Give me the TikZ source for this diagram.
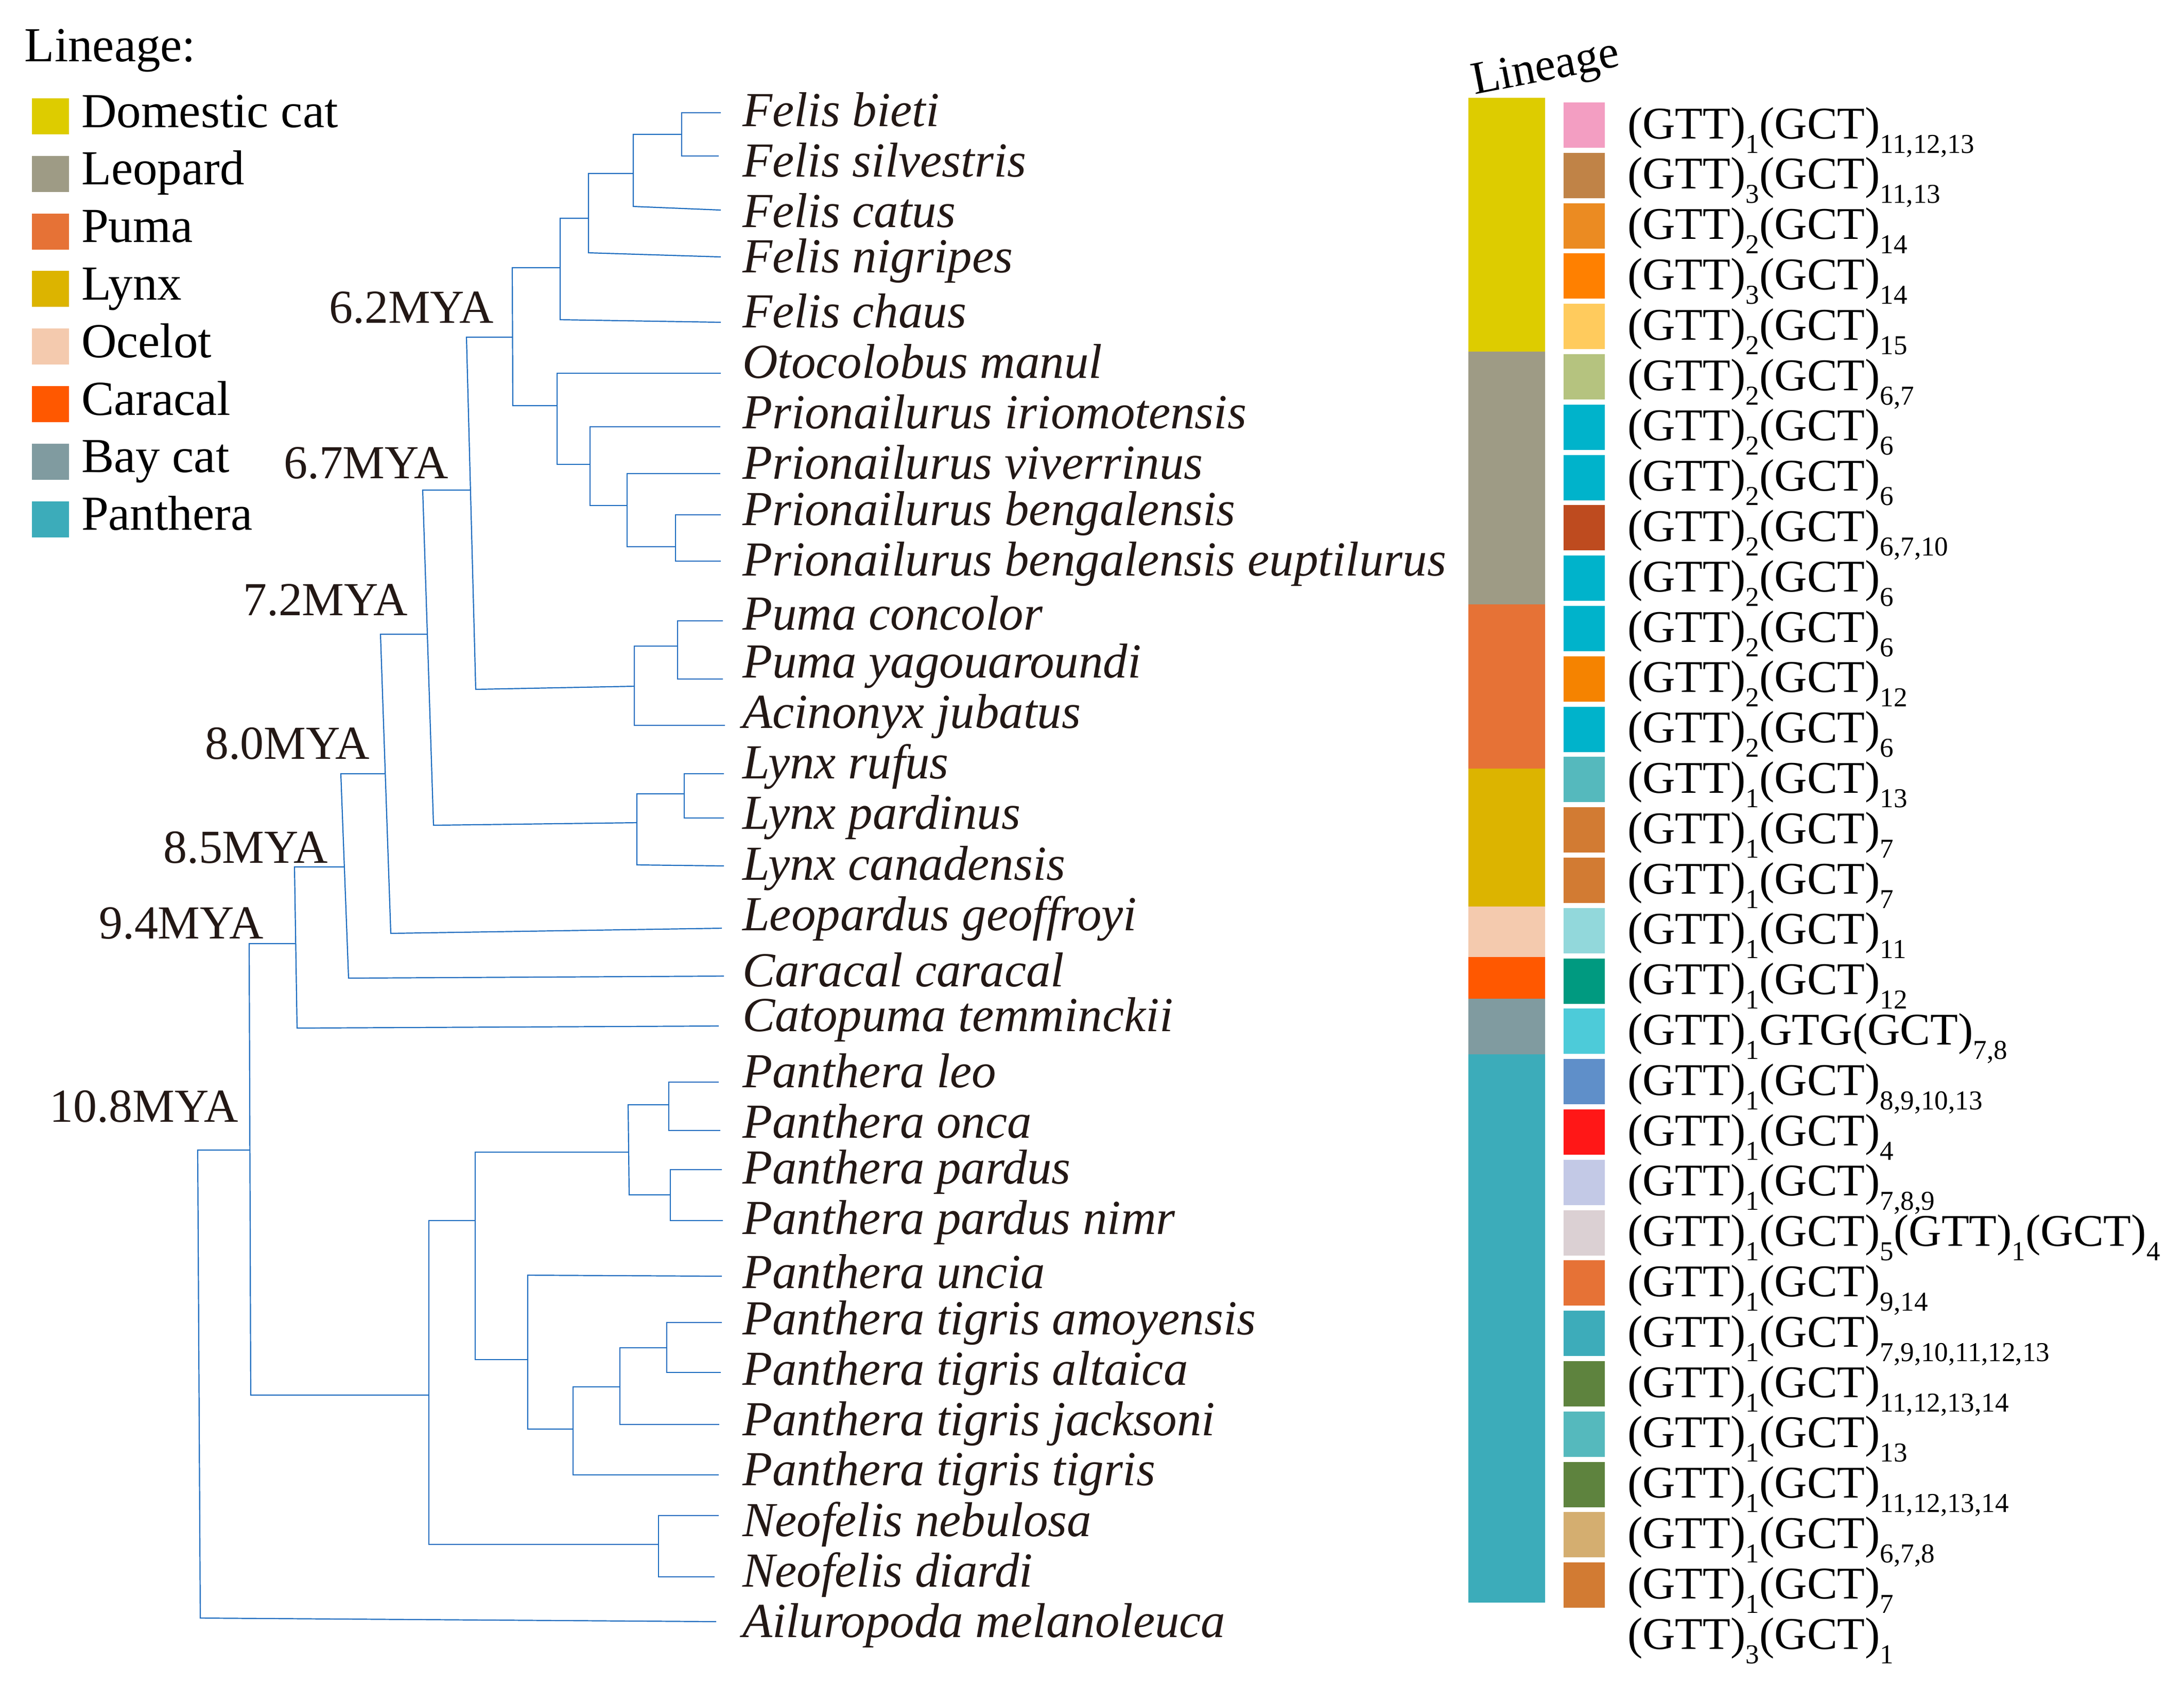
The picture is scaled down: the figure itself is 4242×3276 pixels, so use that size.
\documentclass[tikz,border=0pt]{standalone}
\usepackage{fontspec}
\setmainfont{Liberation Serif}
\definecolor{tree}{HTML}{1F6EC0}
\definecolor{ink}{HTML}{231815}
\definecolor{cDom}{HTML}{DDCC00}
\definecolor{cLeo}{HTML}{9E9B85}
\definecolor{cPum}{HTML}{E67236}
\definecolor{cLyn}{HTML}{DCB400}
\definecolor{cOce}{HTML}{F4CAAE}
\definecolor{cCar}{HTML}{FF5800}
\definecolor{cBay}{HTML}{809BA0}
\definecolor{cPan}{HTML}{3CACBA}
\definecolor{sq0}{HTML}{F39EC2}
\definecolor{sq1}{HTML}{C08347}
\definecolor{sq2}{HTML}{EB8B22}
\definecolor{sq3}{HTML}{FF8000}
\definecolor{sq4}{HTML}{FFCB5D}
\definecolor{sq5}{HTML}{B5C37F}
\definecolor{sq6}{HTML}{00B3CB}
\definecolor{sq8}{HTML}{BE4B1F}
\definecolor{sq11}{HTML}{F58300}
\definecolor{sq13}{HTML}{55B9BD}
\definecolor{sq14}{HTML}{D27B33}
\definecolor{sq16}{HTML}{92D8DB}
\definecolor{sq17}{HTML}{009A80}
\definecolor{sq18}{HTML}{4DCBD9}
\definecolor{sq19}{HTML}{5F8FC9}
\definecolor{sq20}{HTML}{FF1717}
\definecolor{sq21}{HTML}{C3C9E6}
\definecolor{sq22}{HTML}{DBD0D3}
\definecolor{sq23}{HTML}{E67236}
\definecolor{sq24}{HTML}{3DACBA}
\definecolor{sq25}{HTML}{5E833E}
\definecolor{sq28}{HTML}{D4AE70}
\newcommand\rsub[1]{\raisebox{-2.8pt}{\fontsize{5.3}{6}\selectfont #1}}
\newcommand\gtt[1]{(GTT)\rsub{#1}}
\newcommand\gct[1]{(GCT)\rsub{#1}}
\tikzset{
  br/.style={draw=tree, line width=0.22pt},
  sp/.style={anchor=base west, inner sep=0pt, text=ink, font=\fontsize{9.5}{11}\selectfont\itshape},
  mya/.style={anchor=base west, inner sep=0pt, text=ink, font=\fontsize{9.2}{11}\selectfont},
  leg/.style={anchor=base west, inner sep=0pt, font=\fontsize{9.5}{11}\selectfont},
  legsq/.style={minimum width=7.2pt, minimum height=7pt, inner sep=0pt, draw=none},
  sqbox/.style={minimum width=8pt, minimum height=8.8pt, inner sep=0pt, draw=none},
  seq/.style={anchor=base west, inner sep=0pt, font=\fontsize{8.8}{10}\selectfont}
}
\begin{document}
\begin{tikzpicture}[x=0.1pt, y=-0.1pt]
\useasboundingbox (0,0) rectangle (4242,3276);
\fill[white] (0,0) rectangle (4242,3276);

% ---------- legend ----------
\node[leg] (legtitle) at (46,119) {Lineage:};
\foreach \k/\c/\t in {0/cDom/Domestic cat,1/cLeo/Leopard,2/cPum/Puma,3/cLyn/Lynx,4/cOce/Ocelot,5/cCar/Caracal,6/cBay/Bay cat,7/cPan/Panthera}{
  \node[legsq, fill=\c] (lsq\k) at (98,{226+111.8*\k}) {};
  \node[leg] (ltx\k) at (156,{247+111.8*\k}) {\t};
}

% ---------- divergence labels ----------
\node[mya] (m62) at (637,627) {6.2MYA};
\node[mya] (m67) at (549,929) {6.7MYA};
\node[mya] (m72) at (470,1195) {7.2MYA};
\node[mya] (m80) at (396,1474) {8.0MYA};
\node[mya] (m85) at (315,1676) {8.5MYA};
\node[mya] (m94) at (190,1823) {9.4MYA};
\node[mya] (m108) at (95,2179) {10.8MYA};

% ---------- tree ----------
% Felis
\draw[br] (1400,219) -- (1324,219) -- (1324,303) -- (1396,303);
\draw[br] (1324,261) -- (1230,261) -- (1230,401) -- (1400,408);
\draw[br] (1230,337) -- (1143,337) -- (1143,491) -- (1400,499);
\draw[br] (1143,424) -- (1088,424) -- (1088,621) -- (1400,626);
\draw[br] (1088,520) -- (995,520) -- (996,788) -- (1082,788);
% Otocolobus / Prionailurus
\draw[br] (1400,725) -- (1082,725) -- (1082,902) -- (1146,902);
\draw[br] (1399,829) -- (1146,829) -- (1146,982) -- (1218,982);
\draw[br] (1399,920) -- (1218,920) -- (1218,1062) -- (1312,1062);
\draw[br] (1400,1000) -- (1312,1000) -- (1312,1090) -- (1400,1090);
% 6.2 node and Puma clade
\draw[br] (995,655) -- (906,655) -- (924,1339) -- (1232,1333);
\draw[br] (1408,1409) -- (1232,1409) -- (1232,1255) -- (1316,1255);
\draw[br] (1404,1206) -- (1316,1206) -- (1316,1319) -- (1404,1319);
% 6.7 node and Lynx clade
\draw[br] (913,952) -- (821,952) -- (842,1603) -- (1237,1598);
\draw[br] (1406,1682) -- (1237,1680) -- (1237,1542) -- (1329,1542);
\draw[br] (1406,1503) -- (1329,1503) -- (1329,1589) -- (1406,1589);
% 7.2, 8.0, 8.5 nodes
\draw[br] (830,1232) -- (739,1232) -- (759,1813) -- (1402,1803);
\draw[br] (748,1503) -- (662,1503) -- (677,1900) -- (1406,1896);
\draw[br] (668,1684) -- (572,1684) -- (577,1997) -- (1396,1993);
% 9.4 node
\draw[br] (575,1833) -- (484,1833) -- (487,2710) -- (833,2710);
% 10.8 root
\draw[br] (486,2234) -- (384,2234) -- (389,3143) -- (1391,3150);
% Panthera / Neofelis
\draw[br] (923,2371) -- (833,2371) -- (833,3000) -- (1279,3000);
\draw[br] (1396,2944) -- (1279,2944) -- (1279,3063) -- (1388,3063);
\draw[br] (1220,2238) -- (923,2238) -- (923,2641) -- (1025,2641);
\draw[br] (1299,2146) -- (1220,2146) -- (1222,2321) -- (1302,2321);
\draw[br] (1396,2102) -- (1299,2102) -- (1299,2196) -- (1399,2196);
\draw[br] (1402,2272) -- (1302,2272) -- (1302,2371) -- (1404,2371);
\draw[br] (1402,2479) -- (1025,2477) -- (1025,2776) -- (1113,2776);
\draw[br] (1204,2694) -- (1113,2694) -- (1113,2865) -- (1396,2865);
\draw[br] (1295,2618) -- (1204,2618) -- (1204,2767) -- (1397,2767);
\draw[br] (1402,2569) -- (1295,2569) -- (1295,2666) -- (1400,2666);

% ---------- species ----------
\foreach \n/\y/\t in {
 1/245/Felis bieti, 2/343/Felis silvestris, 3/441/Felis catus, 4/529/Felis nigripes,
 5/636/Felis chaus, 6/734/Otocolobus manul, 7/832/Prionailurus iriomotensis,
 8/930/Prionailurus viverrinus, 9/1020/Prionailurus bengalensis,
 10/1118/Prionailurus bengalensis euptilurus, 11/1223/Puma concolor,
 12/1316/Puma yagouaroundi, 13/1414/Acinonyx jubatus, 14/1512/Lynx rufus,
 15/1610/Lynx pardinus, 16/1709/Lynx canadensis, 17/1807/Leopardus geoffroyi,
 18/1916/Caracal caracal, 19/2003/Catopuma temminckii, 20/2112/Panthera leo,
 21/2210/Panthera onca, 22/2299/Panthera pardus, 23/2397/Panthera pardus nimr,
 24/2502/Panthera uncia, 25/2592/Panthera tigris amoyensis,
 26/2690/Panthera tigris altaica, 27/2788/Panthera tigris jacksoni,
 28/2885/Panthera tigris tigris, 29/2984/Neofelis nebulosa,
 30/3082/Neofelis diardi, 31/3180/Ailuropoda melanoleuca}{
  \node[sp] (s\n) at (1440,\y) {\t};
}

% ---------- lineage bar ----------
\node[anchor=base west, inner sep=0pt, rotate=11, font=\fontsize{9}{10}\selectfont] (bartitle) at (2862,184) {Lineage};
\fill[cDom] (2852,190) rectangle (3001,683);
\fill[cLeo] (2852,683) rectangle (3001,1174);
\fill[cPum] (2852,1174) rectangle (3001,1493);
\fill[cLyn] (2852,1493) rectangle (3001,1761);
\fill[cOce] (2852,1761) rectangle (3001,1859);
\fill[cCar] (2852,1859) rectangle (3001,1940);
\fill[cBay] (2852,1940) rectangle (3001,2048);
\fill[cPan] (2852,2048) rectangle (3001,3113);

% ---------- motif squares and labels ----------
\foreach \k/\c/\t in {
 0/sq0/{\gtt{1}\gct{11,12,13}},
 1/sq1/{\gtt{3}\gct{11,13}},
 2/sq2/{\gtt{2}\gct{14}},
 3/sq3/{\gtt{3}\gct{14}},
 4/sq4/{\gtt{2}\gct{15}},
 5/sq5/{\gtt{2}\gct{6,7}},
 6/sq6/{\gtt{2}\gct{6}},
 7/sq6/{\gtt{2}\gct{6}},
 8/sq8/{\gtt{2}\gct{6,7,10}},
 9/sq6/{\gtt{2}\gct{6}},
 10/sq6/{\gtt{2}\gct{6}},
 11/sq11/{\gtt{2}\gct{12}},
 12/sq6/{\gtt{2}\gct{6}},
 13/sq13/{\gtt{1}\gct{13}},
 14/sq14/{\gtt{1}\gct{7}},
 15/sq14/{\gtt{1}\gct{7}},
 16/sq16/{\gtt{1}\gct{11}},
 17/sq17/{\gtt{1}\gct{12}},
 18/sq18/{\gtt{1}GTG\gct{7,8}},
 19/sq19/{\gtt{1}\gct{8,9,10,13}},
 20/sq20/{\gtt{1}\gct{4}},
 21/sq21/{\gtt{1}\gct{7,8,9}},
 22/sq22/{\gtt{1}\gct{5}\gtt{1}\gct{4}},
 23/sq23/{\gtt{1}\gct{9,14}},
 24/sq24/{\gtt{1}\gct{7,9,10,11,12,13}},
 25/sq25/{\gtt{1}\gct{11,12,13,14}},
 26/sq13/{\gtt{1}\gct{13}},
 27/sq25/{\gtt{1}\gct{11,12,13,14}},
 28/sq28/{\gtt{1}\gct{6,7,8}},
 29/sq14/{\gtt{1}\gct{7}}}{
  \node[sqbox, fill=\c] (q\k) at (3077,{243+97.8*\k}) {};
  \node[seq] (t\k) at (3159,{269+97.8*\k}) {\t};
}
\node[seq] (t30) at (3159,3203) {\gtt{3}\gct{1}};
\end{tikzpicture}
\end{document}
